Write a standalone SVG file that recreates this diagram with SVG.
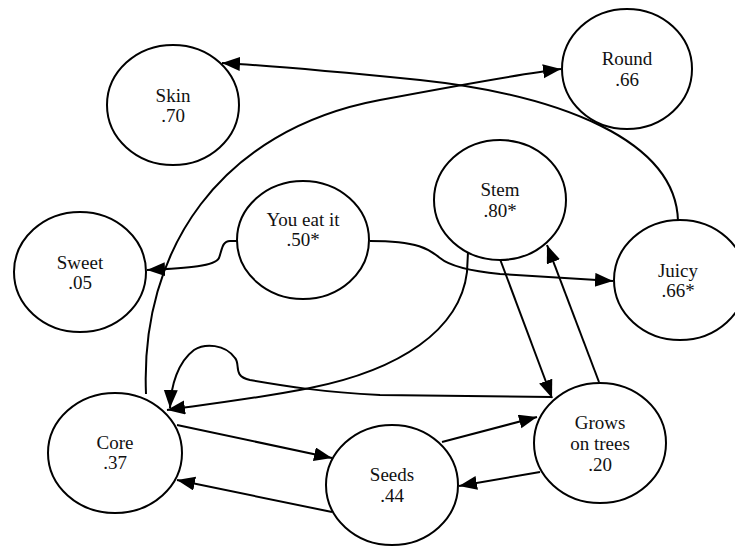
<svg xmlns="http://www.w3.org/2000/svg" width="735" height="548" viewBox="0 0 735 548">
<style>
.node ellipse{fill:#fff;stroke:#000;stroke-width:2}
.node text{font-family:"Liberation Serif","Times New Roman",serif;font-size:19px;fill:#111;text-anchor:middle}
.edges path{fill:none;stroke:#000;stroke-width:2;marker-end:url(#arr)}
</style>
<defs>
<marker id="arr" markerUnits="userSpaceOnUse" markerWidth="20" markerHeight="16" refX="18" refY="7" orient="auto">
<path d="M0,0 L18,7 L0,14 z" fill="#000"/>
</marker>
</defs>
<rect width="735" height="548" fill="#fff"/>
<g class="edges">
<path d="M678,221 C676,140 560,95 420,80 C340,72 280,66 222,63"/>
<path d="M146,394 C140,250 220,130 380,100 C460,85 520,74 561,69"/>
<path d="M237,241 L230,241 C222,241 222,250 219,258 C215,266 190,268 147,270"/>
<path d="M370,241 C420,241 430,250 440,258 C452,268 480,272 500,274 L613,281"/>
<path d="M468,252 L467,272 C460,330 400,370 310,388 C260,398 210,404 167,410"/>
<path d="M552,397 L380,395 C320,392 285,386 250,380 C232,376 241,365 235,358 C225,344 205,343 194,350 C178,362 171,385 170,408"/>
<path d="M500,259 L552,398"/>
<path d="M599,382 L547,245"/>
<path d="M177,425 L332,458"/>
<path d="M332,512 L177,480"/>
<path d="M442,442 L537,417"/>
<path d="M540,472 L459,486"/>
</g>
<g id="skin" class="node"><ellipse cx="173" cy="105" rx="66" ry="60"/><text x="173" y="102">Skin</text><text x="173" y="122">.70</text></g>
<g id="round" class="node"><ellipse cx="627" cy="69" rx="65" ry="60"/><text x="627" y="65">Round</text><text x="627" y="86">.66</text></g>
<g id="youeatit" class="node"><ellipse cx="303" cy="240" rx="66" ry="59"/><text x="303" y="226">You eat it</text><text x="303" y="246">.50*</text></g>
<g id="sweet" class="node"><ellipse cx="80" cy="272" rx="66" ry="60"/><text x="80" y="269">Sweet</text><text x="80" y="289">.05</text></g>
<g id="stem" class="node"><ellipse cx="500" cy="200" rx="66" ry="60"/><text x="500" y="196">Stem</text><text x="500" y="217">.80*</text></g>
<g id="juicy" class="node"><ellipse cx="680" cy="280" rx="66" ry="60"/><text x="678" y="277">Juicy</text><text x="678" y="297">.66*</text></g>
<g id="core" class="node"><ellipse cx="115" cy="453" rx="67" ry="60"/><text x="115" y="449">Core</text><text x="115" y="469">.37</text></g>
<g id="seeds" class="node"><ellipse cx="392" cy="485" rx="66" ry="60"/><text x="392" y="481">Seeds</text><text x="392" y="502">.44</text></g>
<g id="grows" class="node"><ellipse cx="600" cy="443" rx="66" ry="60"/><text x="600" y="429">Grows</text><text x="600" y="450">on trees</text><text x="600" y="471">.20</text></g>
</svg>
